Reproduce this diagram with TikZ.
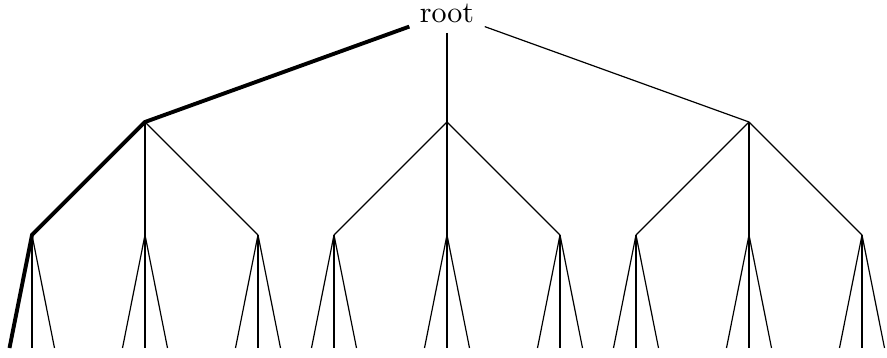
\documentclass[tikz,border=0pt]{standalone}
\begin{document}
\begin{tikzpicture}[x=0.3333pt,y=-0.3333pt,
  edge/.style={line width=0.4pt},
  pathedge/.style={line width=1.3pt}]
\useasboundingbox (0,0) rectangle (887,358);
\node[inner sep=0.333em] (root) at (447,13) {root};
\foreach \i/\x in {1/145,2/447,3/749}{
  \coordinate (n\i) at (\x,122);
  \draw[edge] (root) -- (n\i);
  \foreach \j/\dx in {1/-113,2/0,3/113}{
    \coordinate (n\i\j) at (\x+\dx,235);
    \draw[edge] (n\i) -- (n\i\j);
    \foreach \k/\ddx in {1/-22.5,2/0,3/22.5}{
      \coordinate (n\i\j\k) at (\x+\dx+\ddx,348);
      \draw[edge] (n\i\j) -- (n\i\j\k);
    }
  }
}
\draw[pathedge] (root) -- (n1) -- (n11) -- (n111);
\end{tikzpicture}
\end{document}
